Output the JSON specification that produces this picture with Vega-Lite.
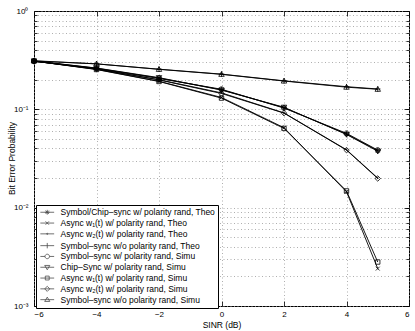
{
  "$schema": "https://vega.github.io/schema/vega-lite/v6.json",
  "width": 375,
  "height": 295,
  "autosize": {"type": "none"},
  "padding": {"left": 34, "top": 11, "right": 6, "bottom": 25},
  "background": "white",
  "config": {
    "view": {"stroke": "black", "strokeWidth": 1},
    "font": "Liberation Sans",
    "axis": {
      "domain": false,
      "tickColor": "black",
      "tickWidth": 0.8,
      "labelColor": "black",
      "labelFontSize": 8,
      "labelFont": "Liberation Sans",
      "titleFont": "Liberation Sans",
      "titleFontSize": 8.5,
      "titleFontWeight": "normal",
      "titleColor": "black",
      "gridColor": "#9a9a9a",
      "gridDash": [1, 2.5],
      "gridWidth": 0.8
    }
  },
  "data": {
    "values": [
      {"series": "Symbol/Chip–sync w/ polarity rand, Theo", "x": -6, "y": 0.31},
      {"series": "Symbol/Chip–sync w/ polarity rand, Theo", "x": -4, "y": 0.262},
      {"series": "Symbol/Chip–sync w/ polarity rand, Theo", "x": -2, "y": 0.208},
      {"series": "Symbol/Chip–sync w/ polarity rand, Theo", "x": 0, "y": 0.158},
      {"series": "Symbol/Chip–sync w/ polarity rand, Theo", "x": 2, "y": 0.104},
      {"series": "Symbol/Chip–sync w/ polarity rand, Theo", "x": 4, "y": 0.056},
      {"series": "Symbol/Chip–sync w/ polarity rand, Theo", "x": 5, "y": 0.038},
      {"series": "Async w₁(t) w/ polarity rand, Theo", "x": -6, "y": 0.31},
      {"series": "Async w₁(t) w/ polarity rand, Theo", "x": -4, "y": 0.255},
      {"series": "Async w₁(t) w/ polarity rand, Theo", "x": -2, "y": 0.193},
      {"series": "Async w₁(t) w/ polarity rand, Theo", "x": 0, "y": 0.132},
      {"series": "Async w₁(t) w/ polarity rand, Theo", "x": 2, "y": 0.065},
      {"series": "Async w₁(t) w/ polarity rand, Theo", "x": 4, "y": 0.0145},
      {"series": "Async w₁(t) w/ polarity rand, Theo", "x": 5, "y": 0.0024},
      {"series": "Async w₂(t) w/ polarity rand, Theo", "x": -6, "y": 0.31},
      {"series": "Async w₂(t) w/ polarity rand, Theo", "x": -4, "y": 0.258},
      {"series": "Async w₂(t) w/ polarity rand, Theo", "x": -2, "y": 0.2},
      {"series": "Async w₂(t) w/ polarity rand, Theo", "x": 0, "y": 0.147},
      {"series": "Async w₂(t) w/ polarity rand, Theo", "x": 2, "y": 0.092},
      {"series": "Async w₂(t) w/ polarity rand, Theo", "x": 4, "y": 0.0388},
      {"series": "Async w₂(t) w/ polarity rand, Theo", "x": 5, "y": 0.02},
      {"series": "Symbol–sync w/o polarity rand, Theo", "x": -6, "y": 0.31},
      {"series": "Symbol–sync w/o polarity rand, Theo", "x": -4, "y": 0.29},
      {"series": "Symbol–sync w/o polarity rand, Theo", "x": -2, "y": 0.256},
      {"series": "Symbol–sync w/o polarity rand, Theo", "x": 0, "y": 0.228},
      {"series": "Symbol–sync w/o polarity rand, Theo", "x": 2, "y": 0.195},
      {"series": "Symbol–sync w/o polarity rand, Theo", "x": 4, "y": 0.17},
      {"series": "Symbol–sync w/o polarity rand, Theo", "x": 5, "y": 0.161},
      {"series": "Symbol–sync w/ polarity rand, Simu", "x": -6, "y": 0.308},
      {"series": "Symbol–sync w/ polarity rand, Simu", "x": -4, "y": 0.26},
      {"series": "Symbol–sync w/ polarity rand, Simu", "x": -2, "y": 0.206},
      {"series": "Symbol–sync w/ polarity rand, Simu", "x": 0, "y": 0.16},
      {"series": "Symbol–sync w/ polarity rand, Simu", "x": 2, "y": 0.103},
      {"series": "Symbol–sync w/ polarity rand, Simu", "x": 4, "y": 0.057},
      {"series": "Symbol–sync w/ polarity rand, Simu", "x": 5, "y": 0.0385},
      {"series": "Chip–Sync w/ polarity rand, Simu", "x": -6, "y": 0.31},
      {"series": "Chip–Sync w/ polarity rand, Simu", "x": -4, "y": 0.263},
      {"series": "Chip–Sync w/ polarity rand, Simu", "x": -2, "y": 0.21},
      {"series": "Chip–Sync w/ polarity rand, Simu", "x": 0, "y": 0.157},
      {"series": "Chip–Sync w/ polarity rand, Simu", "x": 2, "y": 0.105},
      {"series": "Chip–Sync w/ polarity rand, Simu", "x": 4, "y": 0.0555},
      {"series": "Chip–Sync w/ polarity rand, Simu", "x": 5, "y": 0.0375},
      {"series": "Async w₁(t) w/ polarity rand, Simu", "x": -6, "y": 0.31},
      {"series": "Async w₁(t) w/ polarity rand, Simu", "x": -4, "y": 0.254},
      {"series": "Async w₁(t) w/ polarity rand, Simu", "x": -2, "y": 0.192},
      {"series": "Async w₁(t) w/ polarity rand, Simu", "x": 0, "y": 0.13},
      {"series": "Async w₁(t) w/ polarity rand, Simu", "x": 2, "y": 0.064},
      {"series": "Async w₁(t) w/ polarity rand, Simu", "x": 4, "y": 0.0148},
      {"series": "Async w₁(t) w/ polarity rand, Simu", "x": 5, "y": 0.0028},
      {"series": "Async w₂(t) w/ polarity rand, Simu", "x": -6, "y": 0.309},
      {"series": "Async w₂(t) w/ polarity rand, Simu", "x": -4, "y": 0.257},
      {"series": "Async w₂(t) w/ polarity rand, Simu", "x": -2, "y": 0.199},
      {"series": "Async w₂(t) w/ polarity rand, Simu", "x": 0, "y": 0.145},
      {"series": "Async w₂(t) w/ polarity rand, Simu", "x": 2, "y": 0.0915},
      {"series": "Async w₂(t) w/ polarity rand, Simu", "x": 4, "y": 0.0385},
      {"series": "Async w₂(t) w/ polarity rand, Simu", "x": 5, "y": 0.0198},
      {"series": "Symbol–sync w/o polarity rand, Simu", "x": -6, "y": 0.312},
      {"series": "Symbol–sync w/o polarity rand, Simu", "x": -4, "y": 0.29},
      {"series": "Symbol–sync w/o polarity rand, Simu", "x": -2, "y": 0.255},
      {"series": "Symbol–sync w/o polarity rand, Simu", "x": 0, "y": 0.227},
      {"series": "Symbol–sync w/o polarity rand, Simu", "x": 2, "y": 0.194},
      {"series": "Symbol–sync w/o polarity rand, Simu", "x": 4, "y": 0.168},
      {"series": "Symbol–sync w/o polarity rand, Simu", "x": 5, "y": 0.16}
    ]
  },
  "encoding": {
    "x": {"field": "x", "type": "quantitative", "scale": {"domain": [-6, 6], "nice": false}},
    "y": {"field": "y", "type": "quantitative", "scale": {"type": "log", "domain": [0.001, 1], "nice": false}}
  },
  "layer": [
    {
      "mark": {"type": "line", "color": "black", "strokeWidth": 0.9},
      "encoding": {
        "detail": {"field": "series"},
        "x": {"field": "x", "type": "quantitative", "scale": {"domain": [-6, 6], "nice": false},
          "axis": {"orient": "bottom", "values": [-6, -4, -2, 0, 2, 4, 6], "grid": true, "tickSize": -5, "labelPadding": 9, "title": "SINR (dB)", "titlePadding": 2}},
        "y": {"field": "y", "type": "quantitative", "scale": {"type": "log", "domain": [0.001, 1], "nice": false},
          "axis": {"orient": "left", "grid": true, "tickSize": -3, "labelPadding": 9, "title": "Bit Error Probability", "titleX": -18, "titleY": 147,
            "values": [0.001, 0.002, 0.003, 0.004, 0.005, 0.006, 0.007, 0.008, 0.009, 0.01, 0.02, 0.03, 0.04, 0.05, 0.06, 0.07, 0.08, 0.09, 0.1, 0.2, 0.3, 0.4, 0.5, 0.6, 0.7, 0.8, 0.9, 1],
            "labelExpr": "datum.value >= 0.99 ? '10⁰' : (datum.value > 0.099 && datum.value < 0.101) ? '10⁻¹' : (datum.value > 0.0099 && datum.value < 0.0101) ? '10⁻²' : (datum.value > 0.00099 && datum.value < 0.00101) ? '10⁻³' : ''"}}
      }
    },
    {
      "mark": {"type": "point", "filled": false, "stroke": "black", "strokeWidth": 0.8, "size": 30, "opacity": 1},
      "encoding": {
        "x": {"field": "x", "type": "quantitative", "axis": null},
        "y": {"field": "y", "type": "quantitative", "scale": {"type": "log", "domain": [0.001, 1], "nice": false},
          "axis": {"orient": "left", "values": [0.001, 0.01, 0.1, 1], "grid": false, "labels": false, "tickSize": -5, "title": null}},
        "shape": {"field": "series", "type": "nominal", "legend": null,
          "scale": {
            "domain": ["Symbol/Chip–sync w/ polarity rand, Theo", "Async w₁(t) w/ polarity rand, Theo", "Async w₂(t) w/ polarity rand, Theo", "Symbol–sync w/o polarity rand, Theo", "Symbol–sync w/ polarity rand, Simu", "Chip–Sync w/ polarity rand, Simu", "Async w₁(t) w/ polarity rand, Simu", "Async w₂(t) w/ polarity rand, Simu", "Symbol–sync w/o polarity rand, Simu"],
            "range": [
              "M-1,0L1,0M0,-1L0,1M-0.7,-0.7L0.7,0.7M-0.7,0.7L0.7,-0.7",
              "M-0.7,-0.7L0.7,0.7M-0.7,0.7L0.7,-0.7",
              "M0.2,0A0.2,0.2 0 1,1 -0.2,0A0.2,0.2 0 1,1 0.2,0",
              "M-1,0L1,0M0,-1L0,1",
              "M0.9,0A0.9,0.9 0 1,1 -0.9,0A0.9,0.9 0 1,1 0.9,0",
              "M-1,-0.75L1,-0.75L0,1Z",
              "M-0.8,-0.8L0.8,-0.8L0.8,0.8L-0.8,0.8Z",
              "M0,-1L1,0L0,1L-1,0Z",
              "M0,-1L1,0.75L-1,0.75Z"
            ]}}
      }
    },
    {
      "transform": [{"filter": "datum.x > 100"}],
      "mark": {"type": "point", "filled": false, "stroke": "black", "strokeWidth": 0.8, "size": 30},
      "encoding": {
        "x": {"field": "x", "type": "quantitative", "scale": {"domain": [-6, 6], "nice": false},
          "axis": {"orient": "top", "values": [-6, -4, -2, 0, 2, 4, 6], "grid": false, "labels": false, "tickSize": -5, "title": null}},
        "y": {"field": "y", "type": "quantitative", "scale": {"type": "log", "domain": [0.001, 1], "nice": false},
          "axis": {"orient": "right", "grid": false, "labels": false, "tickSize": -3, "title": null,
            "values": [0.001, 0.002, 0.003, 0.004, 0.005, 0.006, 0.007, 0.008, 0.009, 0.01, 0.02, 0.03, 0.04, 0.05, 0.06, 0.07, 0.08, 0.09, 0.1, 0.2, 0.3, 0.4, 0.5, 0.6, 0.7, 0.8, 0.9, 1]}},
        "shape": {"field": "series", "type": "nominal",
          "scale": {
            "domain": ["Symbol/Chip–sync w/ polarity rand, Theo", "Async w₁(t) w/ polarity rand, Theo", "Async w₂(t) w/ polarity rand, Theo", "Symbol–sync w/o polarity rand, Theo", "Symbol–sync w/ polarity rand, Simu", "Chip–Sync w/ polarity rand, Simu", "Async w₁(t) w/ polarity rand, Simu", "Async w₂(t) w/ polarity rand, Simu", "Symbol–sync w/o polarity rand, Simu"],
            "range": [
              "M-2.3,0L2.3,0M-0.8,0L0.8,0M0,-0.8L0,0.8M-0.56,-0.56L0.56,0.56M-0.56,0.56L0.56,-0.56",
              "M-2.3,0L2.3,0M-0.56,-0.56L0.56,0.56M-0.56,0.56L0.56,-0.56",
              "M-2.3,0L2.3,0M0.2,0A0.2,0.2 0 1,1 -0.2,0A0.2,0.2 0 1,1 0.2,0",
              "M-2.3,0L2.3,0M0,-0.9L0,0.9",
              "M-2.3,0L-0.75,0M0.75,0L2.3,0M0.75,0A0.75,0.75 0 1,1 -0.75,0A0.75,0.75 0 1,1 0.75,0",
              "M-2.3,0L2.3,0M-0.85,-0.6L0.85,-0.6L0,0.85Z",
              "M-2.3,0L2.3,0M-0.65,-0.65L0.65,-0.65L0.65,0.65L-0.65,0.65Z",
              "M-2.3,0L2.3,0M0,-0.85L0.85,0L0,0.85L-0.85,0Z",
              "M-2.3,0L2.3,0M0,-0.85L0.85,0.6L-0.85,0.6Z"
            ]},
          "legend": {
            "orient": "none", "legendX": 2, "legendY": 194, "title": null,
            "strokeColor": "black", "fillColor": "white", "padding": 3, "cornerRadius": 0,
            "labelFont": "Liberation Sans", "labelFontSize": 8.5, "labelColor": "black",
            "symbolSize": 36, "symbolStrokeColor": "black", "symbolStrokeWidth": 0.8, "symbolFillColor": "transparent",
            "symbolOffset": 4, "labelOffset": 9, "rowPadding": 1.8, "labelLimit": 300
          }}
      }
    },
    {
      "transform": [{"filter": "datum.x > 100"}],
      "mark": {"type": "point", "size": 0},
      "encoding": {
        "x": {"field": "x", "type": "quantitative", "axis": null},
        "y": {"field": "y", "type": "quantitative", "scale": {"type": "log", "domain": [0.001, 1], "nice": false},
          "axis": {"orient": "right", "values": [0.001, 0.01, 0.1, 1], "grid": false, "labels": false, "tickSize": -5, "title": null}}
      }
    }
  ],
  "resolve": {"scale": {"shape": "independent"}, "axis": {"x": "independent", "y": "independent"}}
}
